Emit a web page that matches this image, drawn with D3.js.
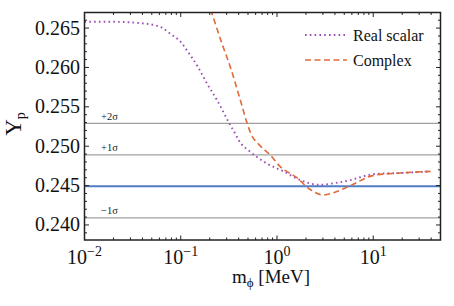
<!DOCTYPE html>
<html><head><meta charset="utf-8">
<script src="https://cdn.jsdelivr.net/npm/d3@7/dist/d3.min.js"></script>
<style>
html,body{margin:0;padding:0;background:#fff;}
svg{display:block;font-family:"Liberation Serif","Times New Roman",serif;}
</style></head><body>
<svg id="c" width="454" height="306"></svg>
<script>
// ---- data ----
const realX = [0.01,0.02,0.028,0.04,0.0525,0.065,0.0774,0.1023,0.1155,0.152,0.1866,0.237,0.3266,0.368,0.398,0.527,0.787,1.17,1.75,2.82,3.89,5.8,8.66,11,19,39.6];
const realY = [0.2658,0.2658,0.26575,0.2656,0.2654,0.2650,0.2643,0.2631,0.2622,0.2600,0.2580,0.2559,0.2527,0.2516,0.2508,0.2493,0.2478,0.2468,0.2457,0.2451,0.2453,0.2457,0.2463,0.2465,0.2466,0.2468];
const cplxX = [0.19,0.2104,0.267,0.3265,0.415,0.487,0.54,0.65,0.85,1.08,1.61,2.22,3.06,3.89,5.8,10.1,19,39.6];
const cplxY = [0.2685,0.2669,0.2631,0.2601,0.2559,0.2530,0.2515,0.2502,0.2489,0.2474,0.2460,0.2445,0.2438,0.2441,0.2450,0.2463,0.2466,0.2468];
const central = 0.2449, sigma = 0.004;
const bandLabels = ["+2σ","+1σ","−1σ"];
const bandOffsets = [2,1,-1];
const yTicks = [0.240,0.245,0.250,0.255,0.260,0.265];
const xTickExps = [-2,-1,0,1];
const seriesNames = ["Real scalar","Complex"];

// ---- layout ----
const svg = d3.select("#c");
const L=84.5, R=440.5, T=12.5, B=240;
const x = d3.scaleLog().domain([0.01,50]).range([L,R]);
const y = d3.scaleLinear().domain([0.23809,0.26698]).range([B,T]);

svg.append("clipPath").attr("id","pc").append("rect")
  .attr("x",L).attr("y",T).attr("width",R-L).attr("height",B-T);
const g = svg.append("g").attr("clip-path","url(#pc)");

// reference lines
bandOffsets.forEach(k=>{
  g.append("line").attr("x1",L).attr("x2",R)
   .attr("y1",y(central+k*sigma)).attr("y2",y(central+k*sigma))
   .attr("stroke","#a0a0a0").attr("stroke-width",1.4);
});
g.append("line").attr("x1",L).attr("x2",R).attr("y1",y(central)).attr("y2",y(central))
  .attr("stroke","#4f7cc4").attr("stroke-width",2);

bandOffsets.forEach((k,i)=>{
  svg.append("text").attr("x",101).attr("y",y(central+k*sigma)-3.5)
    .attr("font-size",10.5).attr("fill","#222").text(bandLabels[i]);
});

const line = d3.line().x(d=>x(d[0])).y(d=>y(d[1])).curve(d3.curveMonotoneX);
g.append("path").datum(realX.map((v,i)=>[v,realY[i]])).attr("d",line)
  .attr("fill","none").attr("stroke","#9a4fb5").attr("stroke-width",1.9)
  .attr("stroke-dasharray","1.6,3.2");
g.append("path").datum(cplxX.map((v,i)=>[v,cplxY[i]])).attr("d",line)
  .attr("fill","none").attr("stroke","#e06a3a").attr("stroke-width",1.6)
  .attr("stroke-dasharray","6,3.5");

// frame
svg.append("rect").attr("x",L).attr("y",T).attr("width",R-L).attr("height",B-T)
  .attr("fill","none").attr("stroke","#222").attr("stroke-width",1.5);

// x ticks
const ax = svg.append("g").attr("stroke","#222").attr("stroke-width",1);
const xMajor = xTickExps.map(e=>Math.pow(10,e));
const xMinor = [];
[-2,-1,0,1].forEach(e=>{for(let m=2;m<=9;m++){const v=m*Math.pow(10,e); if(v<=50) xMinor.push(v);}});
xMajor.forEach(v=>{
  ax.append("line").attr("x1",x(v)).attr("x2",x(v)).attr("y1",B).attr("y2",B-4.5);
  ax.append("line").attr("x1",x(v)).attr("x2",x(v)).attr("y1",T).attr("y2",T+4.5);
});
xMinor.forEach(v=>{
  ax.append("line").attr("x1",x(v)).attr("x2",x(v)).attr("y1",B).attr("y2",B-2.5);
  ax.append("line").attr("x1",x(v)).attr("x2",x(v)).attr("y1",T).attr("y2",T+2.5);
});
xTickExps.forEach(e=>{
  const t = svg.append("text").attr("x",x(Math.pow(10,e))).attr("y",264)
    .attr("text-anchor","middle").attr("font-size",20).attr("fill","#111");
  t.append("tspan").text("10");
  t.append("tspan").attr("dy",-8).attr("font-size",14).text(e<0?"−"+(-e):String(e));
});

// y ticks
const yMinor = d3.range(0.239,0.2675,0.001).filter(v=>!yTicks.some(t=>Math.abs(t-v)<1e-6));
yTicks.forEach(v=>{
  ax.append("line").attr("x1",L).attr("x2",L+4.5).attr("y1",y(v)).attr("y2",y(v));
  ax.append("line").attr("x1",R).attr("x2",R-4.5).attr("y1",y(v)).attr("y2",y(v));
  svg.append("text").attr("x",80).attr("y",y(v)+6.5).attr("text-anchor","end")
    .attr("font-size",20).attr("fill","#111").text(d3.format(".3f")(v));
});
yMinor.forEach(v=>{
  if(y(v)<T||y(v)>B) return;
  ax.append("line").attr("x1",L).attr("x2",L+2.5).attr("y1",y(v)).attr("y2",y(v));
  ax.append("line").attr("x1",R).attr("x2",R-2.5).attr("y1",y(v)).attr("y2",y(v));
});

// axis labels
const xl = svg.append("text").attr("x",271).attr("y",283).attr("text-anchor","middle")
  .attr("font-size",19).attr("fill","#111");
xl.append("tspan").text("m");
xl.append("tspan").attr("dy",4).attr("font-size",13).text("ϕ");
xl.append("tspan").attr("dy",-4).text(" [MeV]");

const yl = svg.append("text").attr("transform","translate(21,124) rotate(-90)")
  .attr("text-anchor","middle").attr("font-size",23).attr("fill","#111");
yl.append("tspan").text("Y");
yl.append("tspan").attr("dy",4).attr("font-size",14).text("p");

// legend
const leg = [{c:"#9a4fb5",d:"1.6,3.2",w:1.9,y:35},{c:"#e06a3a",d:"6,3.5",w:1.6,y:60}];
leg.forEach((l,i)=>{
  svg.append("line").attr("x1",305).attr("x2",347).attr("y1",l.y).attr("y2",l.y)
    .attr("stroke",l.c).attr("stroke-width",l.w).attr("stroke-dasharray",l.d);
  svg.append("text").attr("x",353).attr("y",l.y+5.5).attr("font-size",16)
    .attr("fill","#111").text(seriesNames[i]);
});
</script></body></html>
